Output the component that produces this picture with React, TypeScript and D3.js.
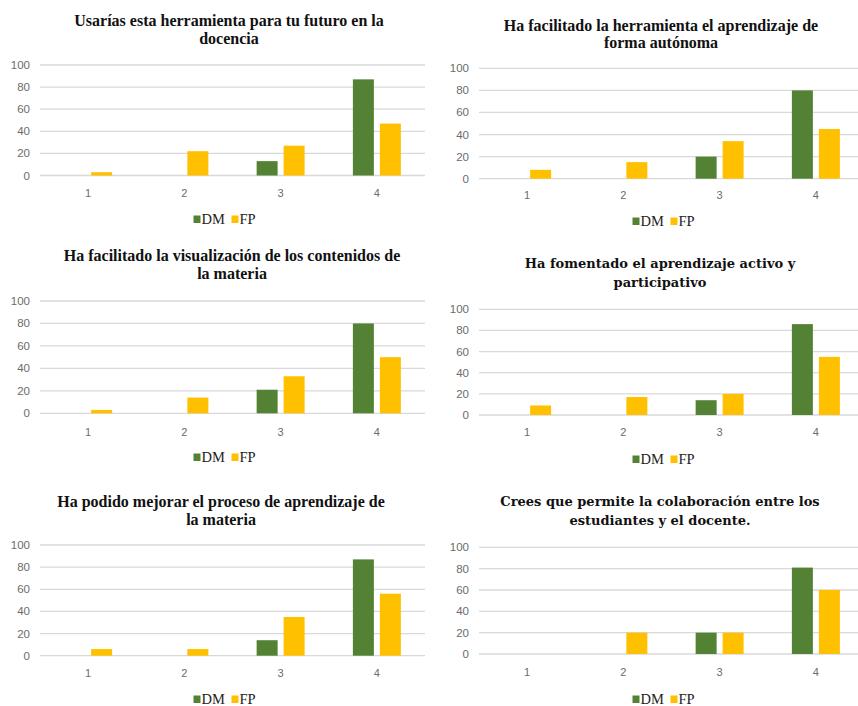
import React from "react";
import * as d3 from "d3";

const categories = ["1", "2", "3", "4"];
const seriesNames = ["DM", "FP"];
const yTicks = [0, 20, 40, 60, 80, 100];

const titles = [
  ["Usarías esta herramienta para tu futuro en la", "docencia"],
  ["Ha facilitado la herramienta el aprendizaje de", "forma autónoma"],
  ["Ha facilitado la visualización de los contenidos de", "la materia"],
  ["Ha fomentado el aprendizaje activo y", "participativo"],
  ["Ha podido mejorar el proceso de aprendizaje de", "la materia"],
  ["Crees que permite la colaboración entre los", "estudiantes y el docente."],
];

const dmValues = [
  [0, 0, 13, 87],
  [0, 0, 20, 80],
  [0, 0, 21, 80],
  [0, 0, 14, 86],
  [0, 0, 14, 87],
  [0, 0, 20, 81],
];

const fpValues = [
  [3, 22, 27, 47],
  [8, 15, 34, 45],
  [3, 14, 33, 50],
  [9, 17, 20, 55],
  [6, 6, 35, 56],
  [0, 20, 20, 60],
];

// layout per panel (pixel geometry only)
const layouts = [
  { x0: 40, x1: 425, yTop: 65, yZero: 175.5, t1: 25.5, t2: 44, tx: 229, xl: 197, lg: 224, font: "Liberation Serif", fs: 16 },
  { x0: 479, x1: 864, yTop: 68.3, yZero: 178.7, t1: 30.5, t2: 48, tx: 661, xl: 199, lg: 226, font: "Liberation Serif", fs: 16 },
  { x0: 40, x1: 425, yTop: 301, yZero: 413.3, t1: 260.5, t2: 278.5, tx: 232, xl: 436, lg: 462, font: "Liberation Serif", fs: 16 },
  { x0: 479, x1: 864, yTop: 309.3, yZero: 415, t1: 268.3, t2: 287, tx: 660, xl: 436, lg: 464, font: "DejaVu Serif", fs: 13 },
  { x0: 40, x1: 425, yTop: 545, yZero: 655.7, t1: 506.5, t2: 524.5, tx: 221, xl: 677, lg: 704, font: "Liberation Serif", fs: 16 },
  { x0: 479, x1: 864, yTop: 547.3, yZero: 654, t1: 505.7, t2: 525, tx: 660, xl: 676, lg: 704, font: "DejaVu Serif", fs: 13 },
];

const colors: Record<string, string> = { DM: "#548235", FP: "#FFC000" };

function Panel({ i }: { i: number }) {
  const L = layouts[i];
  const x = d3.scaleBand<string>().domain(categories).range([L.x0, L.x1]).padding(0);
  const inner = d3
    .scaleBand<string>()
    .domain(seriesNames)
    .range([0, x.bandwidth()])
    .paddingInner(6 / 27)
    .paddingOuter(0.894);
  const y = d3.scaleLinear().domain([0, 100]).range([L.yZero, L.yTop]);
  const vals: Record<string, number[]> = { DM: dmValues[i], FP: fpValues[i] };
  const legendCx = (L.x0 + L.x1) / 2 - 7;
  return (
    <g>
      <text
        textAnchor="middle"
        fontFamily={L.font}
        fontWeight="bold"
        fontSize={L.fs}
        fill="#111"
      >
        <tspan x={L.tx} y={L.t1}>{titles[i][0]}</tspan>
        <tspan x={L.tx} y={L.t2}>{titles[i][1]}</tspan>
      </text>
      {yTicks.map((t) => (
        <g key={t}>
          <line x1={L.x0} x2={L.x1} y1={y(t)} y2={y(t)} stroke="#d9d9d9" strokeWidth={1.3} />
          <text
            x={L.x0 - 10}
            y={y(t) + 4}
            textAnchor="end"
            fontFamily="Liberation Sans"
            fontSize={11.5}
            fill="#6b6b6b"
          >
            {t}
          </text>
        </g>
      ))}
      {categories.map((c, ci) => (
        <g key={c}>
          {seriesNames.map((s) => {
            const v = vals[s][ci];
            if (!v) return null;
            return (
              <rect
                key={s}
                x={(x(c) as number) + (inner(s) as number)}
                y={y(v)}
                width={inner.bandwidth()}
                height={y(0) - y(v)}
                fill={colors[s]}
              />
            );
          })}
          <text
            x={(x(c) as number) + x.bandwidth() / 2}
            y={L.xl}
            textAnchor="middle"
            fontFamily="Liberation Sans"
            fontSize={11}
            fill="#6b6b6b"
          >
            {c}
          </text>
        </g>
      ))}
      <g transform={`translate(${legendCx - 32},${L.lg})`}>
        <rect x={0} y={-8.5} width={7} height={7.5} fill={colors.DM} />
        <text x={8} y={0} fontFamily="Liberation Serif" fontSize={14.5} fill="#222">
          DM
        </text>
        <rect x={38} y={-8.5} width={7} height={7.5} fill={colors.FP} />
        <text x={46} y={0} fontFamily="Liberation Serif" fontSize={14.5} fill="#222">
          FP
        </text>
      </g>
    </g>
  );
}

export default function App() {
  return (
    <svg
      width={858}
      height={706}
      style={{ position: "absolute", left: 0, top: 0, background: "#fff" }}
    >
      <rect width={858} height={706} fill="#fff" />
      {layouts.map((_, i) => (
        <Panel key={i} i={i} />
      ))}
    </svg>
  );
}
